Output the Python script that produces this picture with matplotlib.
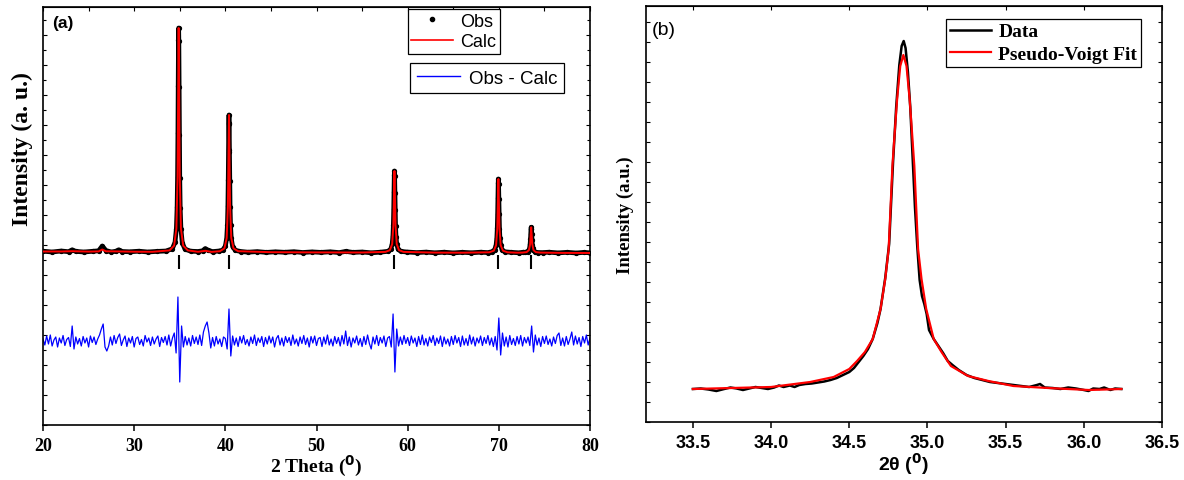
import numpy as np
import matplotlib
matplotlib.use('Agg')
import matplotlib.pyplot as plt
from matplotlib.lines import Line2D
from matplotlib.ticker import MultipleLocator, NullFormatter

# ---------------- (a) Rietveld refinement data ----------------
# observed pattern (2theta, intensity)
obs_x = [20.0, 21.0, 22.0, 22.8, 23.2, 23.6, 24.5, 25.5, 26.1, 26.5, 26.9, 27.5, 28.0, 28.3, 28.7,
         29.5, 30.5, 31.5, 32.5, 33.5,
         34.18, 34.48, 34.63, 34.71, 34.76, 34.80, 34.83, 34.86, 34.88, 34.90, 34.93, 34.96, 35.00,
         35.05, 35.13, 35.28, 35.58,
         36.2, 37.0, 37.5, 37.8, 38.1, 38.6, 39.3,
         39.70, 40.00, 40.15, 40.23, 40.28, 40.32, 40.35, 40.38, 40.40, 40.42, 40.45, 40.48, 40.52,
         40.57, 40.65, 40.80, 41.10,
         41.7, 42.5, 43.5, 44.5, 45.5, 46.5, 47.5, 48.5, 49.5, 50.5, 51.5, 52.5, 53.2, 54.0, 55.0,
         56.0, 57.0,
         57.85, 58.15, 58.30, 58.38, 58.43, 58.47, 58.50, 58.53, 58.55, 58.57, 58.60, 58.63, 58.67,
         58.72, 58.80, 58.95, 59.25,
         59.9, 61.0, 62.0, 63.0, 64.0, 65.0, 66.0, 67.0, 68.0, 68.8,
         69.25, 69.55, 69.70, 69.78, 69.83, 69.87, 69.90, 69.93, 69.95, 69.97, 70.00, 70.03, 70.07,
         70.12, 70.20, 70.35, 70.65,
         71.3, 72.2, 72.7,
         72.85, 73.15, 73.30, 73.38, 73.43, 73.47, 73.50, 73.53, 73.55, 73.57, 73.60, 73.63, 73.67,
         73.72, 73.80, 73.95, 74.25,
         74.8, 75.5, 76.5, 77.5, 78.5, 79.3, 80.0]
obs_y = [1738, 1730, 1740, 1733, 1752, 1736, 1730, 1738, 1742, 1790, 1745, 1730, 1738, 1752, 1735,
         1732, 1738, 1730, 1736, 1740,
         1762, 1826, 1963, 2178, 2478, 2917, 3394, 3851, 3970, 3840, 3380, 2905, 2470,
         2170, 1958, 1820, 1758,
         1738, 1735, 1742, 1765, 1748, 1734, 1740,
         1748, 1787, 1870, 2002, 2186, 2454, 2746, 3025, 3100, 3015, 2735, 2445, 2180,
         1998, 1866, 1785, 1746,
         1735, 1728, 1734, 1726, 1732, 1727, 1733, 1725, 1731, 1726, 1732, 1724, 1736, 1726, 1730,
         1722, 1728,
         1737, 1760, 1810, 1888, 1997, 2157, 2331, 2497, 2540, 2490, 2325, 2150, 1992,
         1885, 1808, 1758, 1736,
         1730, 1724, 1729, 1722, 1728, 1721, 1727, 1722, 1728, 1724,
         1733, 1754, 1799, 1870, 1968, 2113, 2270, 2421, 2460, 2415, 2265, 2108, 1965,
         1868, 1797, 1752, 1732,
         1727, 1722, 1728,
         1726, 1733, 1749, 1773, 1807, 1857, 1911, 1963, 1977, 1960, 1908, 1855, 1805,
         1771, 1748, 1732, 1725,
         1724, 1728, 1721, 1727, 1720, 1726, 1722]

# calculated pattern
calc_x = [20.0, 22.0, 23.2, 25.0, 26.1, 26.5, 26.9, 28.0, 30.0, 32.0,
          33.88, 34.38, 34.63, 34.76, 34.82, 34.88, 34.94, 35.00, 35.13, 35.38, 35.88,
          37.0, 37.8, 38.5,
          39.4, 39.9, 40.15, 40.28, 40.34, 40.40, 40.46, 40.52, 40.65, 40.9, 41.4,
          45.0, 50.0, 55.0,
          57.55, 58.05, 58.30, 58.43, 58.49, 58.55, 58.61, 58.67, 58.80, 59.05, 59.55,
          63.0, 66.0,
          68.95, 69.45, 69.70, 69.83, 69.89, 69.95, 70.01, 70.07, 70.20, 70.45, 70.95,
          72.0,
          72.55, 73.05, 73.30, 73.43, 73.49, 73.55, 73.61, 73.67, 73.80, 74.05, 74.55,
          77.0, 80.0]
calc_y = [1735, 1735, 1738, 1734, 1736, 1755, 1737, 1736, 1733, 1732,
          1746, 1793, 1963, 2478, 3224, 3970, 3224, 2478, 1963, 1793, 1746,
          1732, 1742, 1731,
          1738, 1766, 1870, 2186, 2642, 3100, 2642, 2186, 1870, 1766, 1738,
          1728, 1726, 1725,
          1731, 1748, 1809, 1996, 2265, 2540, 2265, 1996, 1809, 1748, 1731,
          1724, 1723,
          1727, 1743, 1798, 1967, 2212, 2460, 2212, 1967, 1798, 1743, 1727,
          1723,
          1724, 1729, 1749, 1807, 1892, 1977, 1892, 1807, 1749, 1729, 1724,
          1721, 1720]

# Obs - Calc, scan from 20 to 80 with 0.2 deg step
scan_start = 20.0
scan_step = 0.2
resid = [20, -40, 50, -30, 60, -50, 10, 40, -60, 30, -20, 55, -45, 15, 35, -55, 150, -80, 40, -30,
         25, -50, 45, -20, 30, -60, 50, -15, 40, -35, 20, 60, 120, 170, -60, -100, -50, 40, -40, 55,
         -25, 35, 70, -45, 10, 50, -55, 30, -20, 45, -60, 25, 40, -35, 15, -50, 55, -10, 30, -45,
         40, -30, 20, 50, -55, 35, -15, 45, -40, 60, -50, 30, 80, -120, 440, -410, 150, -60, 45, -40,
         30, -50, 55, -25, 40, -35, 60, -45, 90, 150, 190, 80, -70, 35, -50, 45, -30, 20, -55, 40,
         25, -80, 320, -150, 50, -40, 30, -55, 45, -20, 55, -35, 15, -50, 40, -25, 60, -45, 30, -15,
         45, -55, 35, -30, 50, -20, 40, -60, 25, 55, -40, 30, -50, 45, -15, 35, -45, 60, -30, 20,
         -50, 40, -25, 55, -35, 30, -60, 45, -20, 50, -45, 25, 35, -55, 40, -30, 60, -40, 20, -50,
         45, -25, 35, -50, 55, -30, 100, -45, 40, -60, 30, -20, 50, -40, 25, -55, 45, -35, 60, -25,
         -80, 40, -30, 55, -45, 35, -20, 50, -55, 30, 45, -60, 270, -310, 120, -50, 40, -35, 55, -25,
         35, -45, 50, -20, 30, -55, 45, -35, 60, -40, 25, -50, 40, -15, 55, -45, 30, -25, 50, -55,
         40, -30, 20, -50, 45, -35, 55, -20, 35, -55, 50, -40, 25, -45, 60, -30, 40, -50, 30, -20,
         50, -45, 35, -25, 55, -40, 30, -55, 45, -90, 230, -140, 80, -50, 40, -60, 55, -35, 25, -45,
         45, -30, 55, -50, 35, -20, 40, -45, 150, -110, 60, -40, 30, -55, 45, -25, 50, -35, 20, -50,
         40, -25, 55, 80, -45, 30, -50, 45, -35, 20, 90, -40, 50, -30, 35, -55, 45, -20, 60, -40,
         30]
resid_level = 840

# Bragg reflection positions
bragg_pos = [34.88, 40.40, 58.55, 69.95, 73.55]

# ---------------- (b) single peak fit ----------------
data_x = [33.50, 33.55, 33.60, 33.65, 33.70, 33.74, 33.78, 33.82, 33.86, 33.90, 33.94, 33.98,
          34.02, 34.05, 34.08, 34.12, 34.15, 34.18, 34.22, 34.26, 34.30, 34.34, 34.38, 34.42,
          34.46, 34.50, 34.53, 34.56, 34.59, 34.62, 34.65, 34.68, 34.70, 34.73, 34.755, 34.78,
          34.80, 34.82, 34.835, 34.848, 34.86, 34.875, 34.89, 34.905, 34.92, 34.935, 34.95,
          34.965, 34.98, 34.995, 35.01, 35.04, 35.07, 35.10, 35.13, 35.16, 35.20, 35.25, 35.30,
          35.35, 35.40, 35.45, 35.50, 35.55, 35.60, 35.65, 35.70, 35.72, 35.75, 35.80, 35.85,
          35.90, 35.95, 36.00, 36.03, 36.06, 36.10, 36.13, 36.17, 36.20, 36.24]
data_y = [330, 335, 325, 310, 330, 345, 335, 320, 335, 350, 340, 330,
          345, 365, 350, 365, 350, 370, 380, 385, 395, 405, 420, 440,
          470, 500, 540, 600, 660, 730, 830, 990, 1130, 1440, 1780, 2600,
          3150, 3570, 3760, 3810, 3740, 3500, 3150, 2650, 2150, 1750, 1420,
          1260, 1180, 1080, 920, 830, 760, 690, 610, 570, 520, 470, 440,
          420, 400, 390, 380, 370, 360, 350, 370, 380, 345, 340, 330,
          345, 335, 320, 310, 335, 330, 345, 320, 335, 330]

fit_x = [33.50, 33.75, 34.00, 34.25, 34.40, 34.50, 34.55, 34.60, 34.65, 34.70, 34.73, 34.752,
         34.776, 34.791, 34.806, 34.826, 34.846, 34.866, 34.886, 34.901, 34.916, 34.940, 34.962,
         34.992, 35.04, 35.09, 35.15, 35.26, 35.39, 35.55, 35.77, 36.03, 36.24]
fit_y = [330, 340, 350, 400, 450, 530, 610, 700, 830, 1130, 1430, 1730,
         2560, 2900, 3230, 3560, 3670, 3560, 3230, 2900, 2560, 1730, 1430,
         1130, 830, 700, 560, 460, 410, 360, 340, 320, 330]

# ---------------- figure ----------------
fig = plt.figure(figsize=(11.84, 4.81), dpi=100)
ax1 = fig.add_axes([43 / 1184, 55 / 481, 547 / 1184, 418 / 481])
ax2 = fig.add_axes([646 / 1184, 58 / 481, 516 / 1184, 416 / 481])

serif_b = dict(family='Liberation Serif', weight='bold')
sans_b = dict(family='Liberation Sans', weight='bold')

# panel (a)
ax1.plot(obs_x, obs_y, color='black', lw=3.4, marker='o', ms=2.8, zorder=2)
ax1.plot(calc_x, calc_y, color='red', lw=1.4, zorder=3)
rx = scan_start + scan_step * np.arange(len(resid))
ax1.plot(rx, resid_level + np.array(resid), color='blue', lw=0.9, zorder=2)
ax1.vlines(bragg_pos, 1560, 1700, color='black', lw=1.5)

ax1.set_xlim(20, 80)
ax1.set_ylim(0, 4180)
ax1.set_xticks(range(20, 81, 10))
ax1.set_xticklabels([str(v) for v in range(20, 81, 10)], fontsize=13, **serif_b)
ax1.tick_params(axis='x', direction='out', length=4, width=1.1, pad=5)
top1 = ax1.secondary_xaxis('top')
top1.set_xticks(range(20, 81, 5))
top1.tick_params(direction='in', length=3, width=0.8, labeltop=False)
ax1.yaxis.set_major_locator(MultipleLocator(300))
ax1.yaxis.set_minor_locator(MultipleLocator(150))
ax1.yaxis.set_major_formatter(NullFormatter())
ax1.tick_params(axis='y', which='both', direction='in', left=True, right=True, length=3, width=0.8)
ax1.tick_params(axis='y', which='minor', length=2)
for s in ax1.spines.values():
    s.set_linewidth(1.2)
ax1.set_xlabel(r'2 Theta ($^{\mathbf{0}}$)', fontsize=14, labelpad=-1, **serif_b)
ax1.set_ylabel('Intensity (a. u.)', fontsize=17, **serif_b)
ax1.yaxis.set_label_coords(-0.019, 0.663)
ax1.text(0.016, 0.98, '(a)', transform=ax1.transAxes, fontsize=12.5, va='top', **sans_b)

h_obs = Line2D([], [], color='black', marker='o', ms=3, lw=0)
h_calc = Line2D([], [], color='red', lw=1.2)
leg1 = ax1.legend([h_obs, h_calc], ['Obs', 'Calc'], loc='upper left', bbox_to_anchor=(0.667, 0.995),
                  fancybox=False, edgecolor='black', framealpha=1,
                  handlelength=2.3, handletextpad=0.4, borderpad=0.2, labelspacing=0.2,
                  borderaxespad=0, prop=dict(family='Liberation Sans', size=13))
leg1.get_frame().set_linewidth(0.9)
ax1.add_artist(leg1)
h_res = Line2D([], [], color='blue', lw=1.0)
leg2 = ax1.legend([h_res], ['Obs - Calc'], loc='upper left', bbox_to_anchor=(0.671, 0.866),
                  fancybox=False, edgecolor='black', framealpha=1,
                  handlelength=2.3, handletextpad=0.5, borderpad=0.35,
                  borderaxespad=0, prop=dict(family='Liberation Sans', size=13.5))
leg2.get_frame().set_linewidth(0.9)

# panel (b)
ax2.plot(data_x, data_y, color='black', lw=1.8, label='Data')
ax2.plot(fit_x, fit_y, color='red', lw=1.6, label='Pseudo-Voigt Fit')
ax2.set_xlim(33.2, 36.5)
ax2.set_ylim(0, 4160)
ticks2 = [33.5, 34.0, 34.5, 35.0, 35.5, 36.0, 36.5]
ax2.set_xticks(ticks2)
ax2.set_xticklabels(['%.1f' % t for t in ticks2], fontsize=13, **sans_b)
ax2.tick_params(axis='x', direction='out', length=4, width=1.1, pad=5)
top2 = ax2.secondary_xaxis('top')
top2.set_xticks(ticks2)
top2.tick_params(direction='in', length=3, width=0.8, labeltop=False)
ax2.yaxis.set_major_locator(MultipleLocator(200))
ax2.yaxis.set_major_formatter(NullFormatter())
ax2.tick_params(axis='y', direction='in', left=True, right=True, length=3, width=0.8)
for s in ax2.spines.values():
    s.set_linewidth(1.2)
ax2.set_xlabel(r'2θ ($^{\mathbf{0}}$)', fontsize=14, labelpad=-1, **sans_b)
ax2.set_ylabel('Intensity (a.u.)', fontsize=13.5, labelpad=5, **serif_b)
ax2.text(0.012, 0.965, '(b)', transform=ax2.transAxes, fontsize=14, va='top',
         family='Liberation Sans')
leg3 = ax2.legend(loc='upper left', bbox_to_anchor=(0.581, 0.969), fancybox=False,
                  edgecolor='black', framealpha=1, handlelength=2.1, handletextpad=0.4,
                  borderpad=0.2, labelspacing=0.25, borderaxespad=0,
                  prop=dict(family='Liberation Serif', weight='bold', size=14))
leg3.get_frame().set_linewidth(0.9)

fig.savefig('out.png', dpi=100)
